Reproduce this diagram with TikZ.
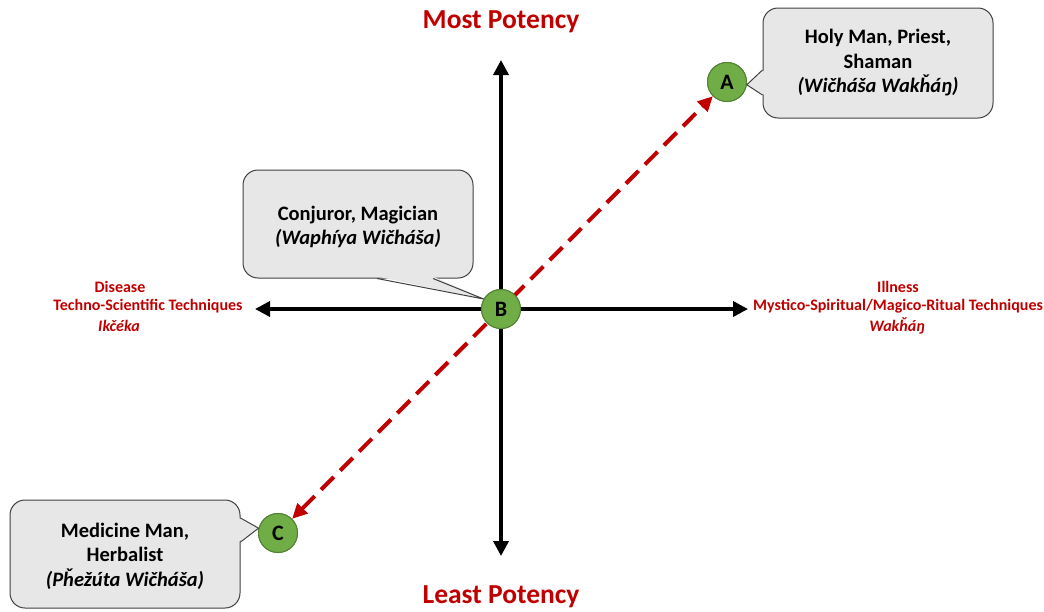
\documentclass[tikz,border=0pt]{standalone}
\usepackage{fontspec}
\setmainfont{Carlito}
\usetikzlibrary{arrows.meta}
\definecolor{dred}{RGB}{192,0,0}
\definecolor{cfill}{RGB}{231,231,231}
\definecolor{cdraw}{RGB}{64,64,64}
\definecolor{gfill}{RGB}{112,173,71}
\definecolor{gdraw}{RGB}{84,130,53}
\begin{document}
\begin{tikzpicture}[x=1pt,y=-1pt,
  axisline/.style={line width=3.5pt,{Triangle[length=15pt,width=15pt]}-{Triangle[length=15pt,width=15pt]}},
  potarrow/.style={dred,line width=4pt,dash pattern=on 18pt off 9pt,{Triangle[length=15pt,width=14pt]}-{Triangle[length=15pt,width=14pt]}},
  letter/.style={circle,fill=gfill,draw=gdraw,line width=1pt,minimum size=39pt,inner sep=0pt,font=\bfseries\fontsize{22}{22}\selectfont},
  calltext/.style={minimum width=230pt,align=center,font=\bfseries\fontsize{20.5}{24.5}\selectfont},
  callbox/.style={rectangle,rounded corners=15pt,fill=cfill,draw=cdraw,line width=1pt,minimum width=230pt},
  pointfill/.style={fill=cfill},
  pointline/.style={draw=cdraw,line width=1pt,line join=round},
  title/.style={text=dred,font=\bfseries\fontsize{27.5}{30}\selectfont},
  axlabel/.style={text=dred,font=\bfseries\fontsize{16}{18}\selectfont},
]
\useasboundingbox (0,0) rectangle (1044,611);

% axes
\coordinate (L) at (255,309);
\coordinate (R) at (748,309);
\coordinate (T) at (501,60);
\coordinate (D) at (501,556);
\draw[axisline] (L) -- (R);
\draw[axisline] (T) -- (D);

% letter nodes
\node[letter] (B) at (501,309) {};
\node[letter] (A) at (727,82) {};
\node[letter] (C) at (278,533) {};

% potency arrow
\draw[potarrow] (C) -- (A);
\node[letter] at (B) {B};
\node[letter] at (A) {A};
\node[letter] at (C) {C};

% callout A
\node[callbox,minimum height=110pt] (ta) at (878,63) {};
\fill[pointfill] ([xshift=2pt,yshift=-32pt]ta.west) -- (A.-8) -- ([xshift=2pt,yshift=-7pt]ta.west) -- cycle;
\draw[pointline] ([yshift=-32pt]ta.west) -- (A.-8) -- ([yshift=-7pt]ta.west);
\node[calltext] at (ta) {Holy Man, Priest,\\Shaman\\\textit{(Wičháša Wakȟáŋ)}};

% callout B
\node[callbox,minimum height=108pt] (tb) at (358,224) {};
\fill[pointfill] ([xshift=75pt,yshift=2pt]tb.south) -- (B.150) -- ([xshift=19pt,yshift=2pt]tb.south) -- cycle;
\draw[pointline] ([xshift=75pt]tb.south) -- (B.150) -- ([xshift=19pt]tb.south);
\node[calltext] at ([yshift=-3pt]tb.center) {Conjuror, Magician\\\textit{(Waphíya Wičháša)}};

% callout C
\node[callbox,minimum height=108pt] (tc) at (125,554) {};
\fill[pointfill] ([xshift=-2pt,yshift=36pt]tc.east) -- (C.166) -- ([xshift=-2pt,yshift=12pt]tc.east) -- cycle;
\draw[pointline] ([yshift=36pt]tc.east) -- (C.166) -- ([yshift=12pt]tc.east);
\node[calltext] at ([yshift=-2pt]tc.center) {Medicine Man,\\Herbalist\\\textit{(Pȟežúta Wičháša)}};

% titles
\node[title] (most) at (501,22) {Most Potency};
\node[title] (least) at (501,597) {Least Potency};

% axis labels
\node[axlabel] (dis) at (120,287) {Disease};
\node[axlabel] (tst) at (148,306) {Techno-Scientific Techniques};
\node[axlabel] (ikc) at (119,326) {\textit{Ikčéka}};
\node[axlabel] (ill) at (898,287) {Illness};
\node[axlabel] (mys) at (898,306) {Mystico-Spiritual/Magico-Ritual Techniques};
\node[axlabel] (wak) at (897,326) {\textit{Wakȟáŋ}};
\end{tikzpicture}
\end{document}
